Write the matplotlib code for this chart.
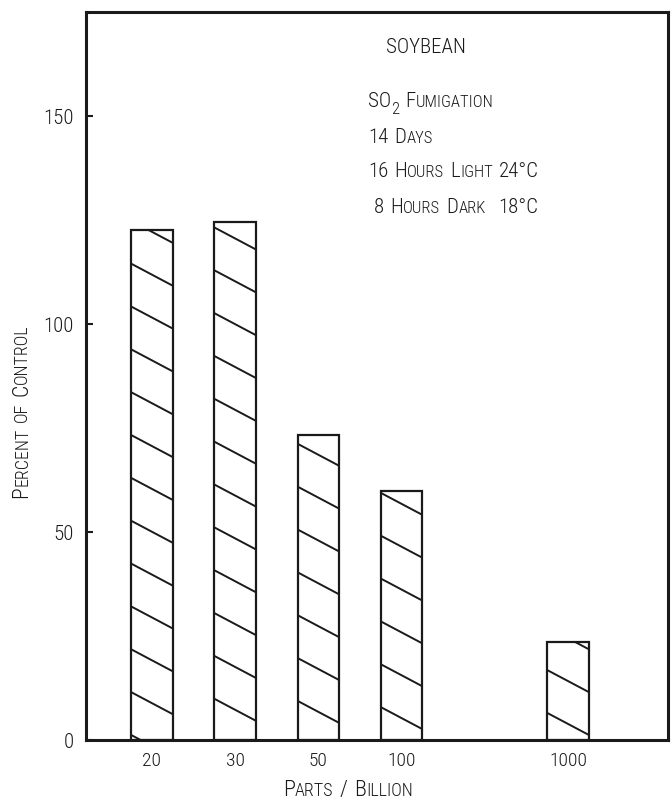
import os
import matplotlib
matplotlib.use('Agg')
import matplotlib.pyplot as plt
from matplotlib import font_manager as fm
from matplotlib.transforms import offset_copy
import numpy as np

# ---------------- data ----------------
categories = ['20', '30', '50', '100', '1000']
positions = [0, 1, 2, 3, 5]
percent_of_control = [122.6, 124.5, 73.3, 59.9, 23.6]
y_ticks = [0, 50, 100, 150]
y_tick_labels = ['0', '50', '100', '150']
title_text = 'SOYBEAN'
note_lines = ['SO_2 Fumigation', '14 Days', '16 Hours Light 24°C', ' 8 Hours Dark  18°C']
x_label = 'Parts / Billion'
y_label = 'Percent of Control'

# ---------------- style ----------------
W, H = 671, 803
HATCH_SPACING = 10.3
HATCH_DROP = 5.3
HATCH_OFFSETS = [1.2, 9.9, 9.4, 7.9, 6.5]


def pick_font():
    files = [f.fname for f in fm.fontManager.ttflist]
    prefs = ['robotocondensed-light', 'roboto_condensed-light',
             'robotocondensed-regular', 'roboto_condensed-regular',
             'liberationsansnarrow-regular', 'dejavusanscondensed.ttf']
    for p in prefs:
        for f in files:
            if p in os.path.basename(f).lower():
                return f
    for f in files:
        b = os.path.basename(f).lower()
        if ('condensed' in b or 'narrow' in b) and 'bold' not in b and 'italic' not in b and 'oblique' not in b:
            return f
    return None


FONT_FILE = pick_font()


def fprop(size):
    if FONT_FILE:
        fp = fm.FontProperties(fname=FONT_FILE)
    else:
        fp = fm.FontProperties(family='DejaVu Sans')
    fp.set_size(size)
    return fp


def px(x, y):
    return x / W, 1 - y / H


def sc_text(fig, xy, s, big, small, rotation=0, ha='left'):
    """Draw text in small caps: lowercase letters become smaller capitals."""
    renderer = fig.canvas.get_renderer()
    x, y = px(*xy)
    runs = []  # [text, size, dy, gap_before]
    gap = 0.0
    i = 0
    cur = None
    while i < len(s):
        ch = s[i]
        if ch == ' ':
            gap += 0.30 * big
            cur = None
            i += 1
            continue
        if ch == '_':
            ch = s[i + 1]
            key = (small, -0.32 * big)
            i += 2
        else:
            if ch.islower():
                key = (small, 0.0)
                ch = ch.upper()
            else:
                key = (big, 0.0)
            i += 1
        if cur is not None and cur[1] == key[0] and cur[2] == key[1]:
            cur[0] += ch
        else:
            cur = [ch, key[0], key[1], gap]
            runs.append(cur)
            gap = 0.0
    cursor = 0.0
    placed = []
    for txt, size, dy, g in runs:
        t = fig.text(x, y, txt, fontproperties=fprop(size), va='baseline', ha='left',
                     rotation_mode='anchor', color='#1a1a1a')
        w = t.get_window_extent(renderer).width * 72.0 / fig.dpi
        cursor += g
        placed.append((t, cursor, dy))
        cursor += w
    total = cursor
    start = -total / 2 if ha == 'center' else 0.0
    th = np.deg2rad(rotation)
    c, sn = np.cos(th), np.sin(th)
    for t, along, dy in placed:
        a = start + along
        ox = a * c - dy * sn
        oy = a * sn + dy * c
        t.set_transform(offset_copy(fig.transFigure, fig=fig, x=ox, y=oy, units='points'))
        t.set_rotation(rotation)
    return placed


fig = plt.figure(figsize=(W / 100, H / 100), dpi=100)
fig.patch.set_facecolor('white')
ax = fig.add_axes([86 / W, 1 - 741 / H, (668 - 86) / W, (741 - 13) / H])

ax.set_xlim(-0.793, 6.20)
ax.set_ylim(0, 175)

bars = ax.bar(positions, percent_of_control, width=0.5, facecolor='white',
              edgecolor='#1a1a1a', linewidth=1.6, zorder=2)

for rect, off in zip(bars.patches, HATCH_OFFSETS):
    left = rect.get_x()
    right = left + rect.get_width()
    top = rect.get_height()
    k = np.arange(-1, int(top / HATCH_SPACING) + 3)
    for y0 in off + k * HATCH_SPACING:
        ln, = ax.plot([left, right], [y0, y0 - HATCH_DROP], color='#1a1a1a',
                      linewidth=1.4, zorder=3, solid_capstyle='butt')
        ln.set_clip_path(rect)

for sp in ax.spines.values():
    sp.set_linewidth(2.2)
    sp.set_color('#1a1a1a')

ax.set_yticks(y_ticks, y_tick_labels)
ax.set_xticks(positions, categories)
ax.tick_params(axis='y', direction='in', length=5, width=1.5, pad=9, colors='#1a1a1a')
ax.tick_params(axis='x', length=0, pad=8, colors='#1a1a1a')
for lab in ax.get_yticklabels():
    lab.set_fontproperties(fprop(15))
for lab in ax.get_xticklabels():
    lab.set_fontproperties(fprop(14))

fig.canvas.draw()

sc_text(fig, (426, 53), title_text, 15, 15, ha='center')
line_pos = [(368, 107), (368, 143), (368, 177), (368, 213)]
for txt, pos in zip(note_lines, line_pos):
    sc_text(fig, pos, txt, 15, 12)

sc_text(fig, (348, 796), x_label, 16, 13, ha='center')
sc_text(fig, (27, 498), y_label, 15.5, 13, rotation=90)

fig.savefig('out.png', dpi=100, facecolor='white')
